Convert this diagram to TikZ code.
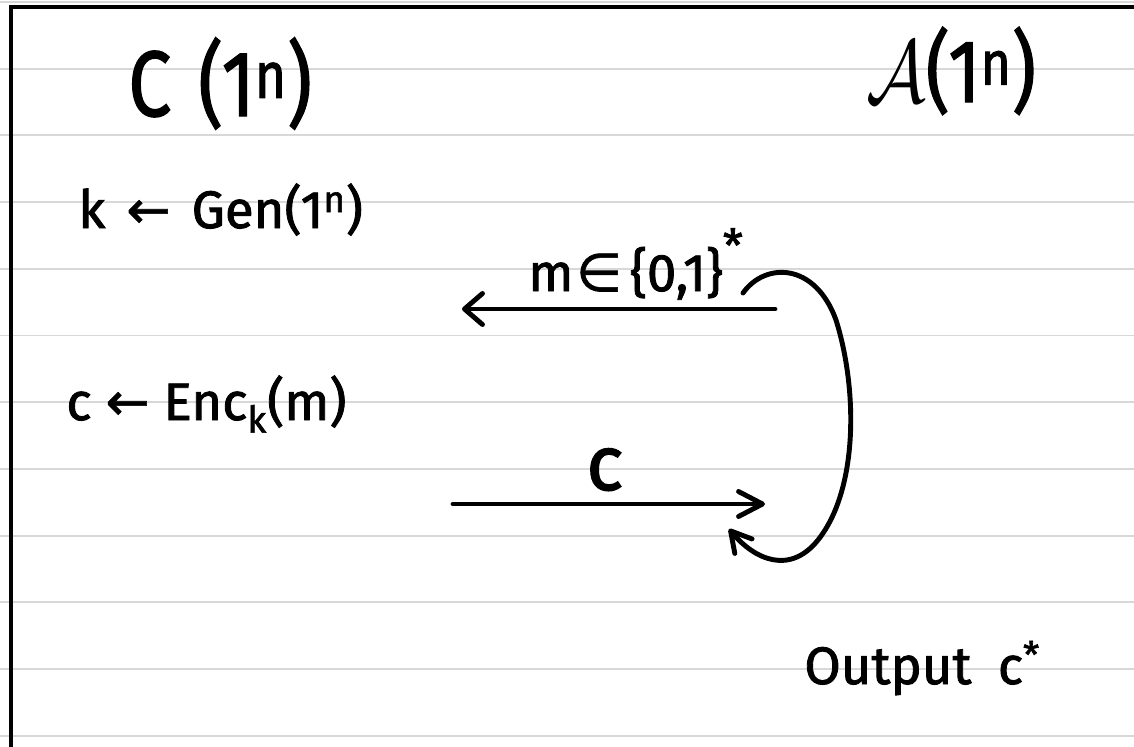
\documentclass[tikz,border=0pt]{standalone}
\usepackage{fontspec}
\setmainfont{Fira Sans}[UprightFeatures={FakeBold=1.6}]
\newfontfamily\sym{DejaVu Sans}[FakeBold=1.2]
\usetikzlibrary{arrows.meta}
\definecolor{paperline}{RGB}{216,216,216}
\tikzset{
  paper/.style={draw=paperline, line width=1.1pt},
  frameline/.style={draw=black, line width=2pt},
  hand/.style={draw=black, line width=2.8pt, line cap=round, line join=round},
  lbl/.style={inner sep=0pt, anchor=base west, font=\fontsize{30}{34}\selectfont},
  headlbl/.style={inner sep=0pt, anchor=base west, font=\fontsize{46}{50}\selectfont},
  biglbl/.style={inner sep=0pt, anchor=base west, font=\fontsize{44}{48}\selectfont},
}
\begin{document}
\begin{tikzpicture}[x=0.02cm, y=-0.02cm]
  \useasboundingbox (0,0) rectangle (1134,747);
  \fill[white] (0,0) rectangle (1134,747);
  % ruled paper
  \foreach \i in {0,...,11}
    \draw[paper] (0,{2+66.7*\i}) -- (1134,{2+66.7*\i});
  % frame
  \draw[frameline] (11,760) -- (11,7) -- (1140,7);

  % headings
  \node[headlbl] (chal) at (128,116) {\scalebox{0.95}[1.15]{C\hspace{0.35em}(1\textsuperscript{n})}};
  \node[headlbl] (adv) at (866,102) {\scalebox{0.92}[1.1]{\scalebox{1.85}{$\mathcal{A}$}(1\textsuperscript{n})}};

  % challenger lines
  \node[lbl] (gen) at (78,228) {k\hspace{0.4em}{\sym ←}\hspace{0.4em}Gen(1\textsuperscript{n})};
  \node[lbl] (enc) at (66,420) {c {\sym ←} Enc\textsubscript{k}(m)};

  % output
  \node[lbl] (out) at (804,684) {Output\hspace{0.5em}c\textsuperscript{*}};

  % message arrow
  \coordinate (mR) at (775,309);
  \coordinate (mL) at (462,309);
  \draw[hand, -{Straight Barb[length=0.36cm, width=0.62cm, round]}] (mR) -- (mL);
  \node[lbl] (mlab) at (528,291) {m\hspace{0.05em}{\sym ∈}\hspace{0.15em}\{0,1\}\raisebox{0.55em}{\fontsize{26}{28}\selectfont *}};

  % ciphertext arrow
  \coordinate (cL) at (453,504);
  \coordinate (cR) at (765,504);
  \draw[hand, -{Straight Barb[length=0.48cm, width=0.5cm, round]}] (cL) -- (cR);
  \node[biglbl] (clab) at (586,490) {c};

  % loop arrow
  \coordinate (lS) at (743,293);
  \coordinate (lE) at (729,529);
  \draw[hand, -{Straight Barb[length=0.4cm, width=0.45cm, round]}]
    (lS) .. controls (765,262) and (815,262) .. (836,320)
         .. controls (858,390) and (858,490) .. (818,540)
         .. controls (790,575) and (755,560) .. (lE);
\end{tikzpicture}
\end{document}
